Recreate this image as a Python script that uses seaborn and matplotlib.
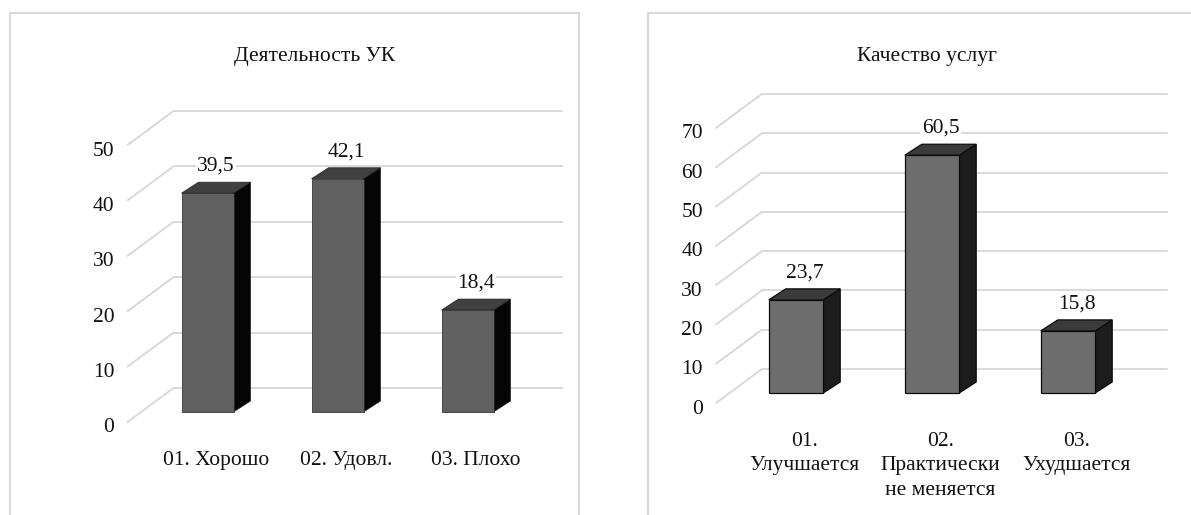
import matplotlib
matplotlib.use("Agg")
import matplotlib.pyplot as plt
import seaborn as sns
import pandas as pd
from matplotlib.patches import Polygon

W, H, DPI = 1191, 515, 100

left_title = "Деятельность УК"
left_cats = ["01. Хорошо", "02. Удовл.", "03. Плохо"]
left_vals = [39.5, 42.1, 18.4]
left_ticks = [0, 10, 20, 30, 40, 50]

right_title = "Качество услуг"
right_cats = ["01.\nУлучшается", "02.\nПрактически\nне меняется", "03.\nУхудшается"]
right_vals = [23.7, 60.5, 15.8]
right_ticks = [0, 10, 20, 30, 40, 50, 60, 70]

sns.set_theme(style="white")
plt.rcParams["font.family"] = ["Liberation Serif", "DejaVu Serif"]

fig = plt.figure(figsize=(W / DPI, H / DPI), dpi=DPI, facecolor="white")

FS = 15.5
GRID = "#d9d9d9"
DEPTH = (17, 11)      # bar depth in pixels (right, up)
BACK_UP = 24          # back wall floor sits this many px above the bar base
FRONT_DOWN = 10       # front edge of the floor below the bar base
BACK_X0, FRONT_X = -34, -80   # px from first bar centre
BACK_X1 = 2.73                # category units


def draw_panel(box, origin, cat_px, unit_px, title, title_x, cats, vals, ticks, colors, edge_lw):
    x0, y0, x1, y1 = box
    ox, oy = origin
    ax = fig.add_axes([x0 / W, 1 - y1 / H, (x1 - x0) / W, (y1 - y0) / H])
    front, top, side, edge = colors

    df = pd.DataFrame({"cat": cats, "val": vals})
    sns.barplot(data=df, x="cat", y="val", ax=ax, color=front, saturation=1,
                width=0.4, edgecolor=edge, linewidth=edge_lw, zorder=3)

    ax.set_xlim((x0 - ox) / cat_px, (x1 - ox) / cat_px)
    ax.set_ylim((oy - y1) / unit_px, (oy - y0) / unit_px)
    ax.set_xticks([])
    ax.set_yticks([])
    ax.set_xlabel("")
    ax.set_ylabel("")
    for s in ax.spines.values():
        s.set_color("#d9d9d9")
        s.set_linewidth(1.5)

    px = lambda p: p / cat_px
    py = lambda p: p / unit_px

    # back wall + diagonal floor lines
    for v in ticks:
        yb = v + py(BACK_UP)
        yf = v - py(FRONT_DOWN)
        ax.plot([px(BACK_X0), BACK_X1], [yb, yb], color=GRID, lw=1.4, zorder=1)
        ax.plot([px(FRONT_X), px(BACK_X0)], [yf, yb], color=GRID, lw=1.4, zorder=1)
        ax.text(px(-93), yf - py(6), str(v), ha="right", va="center", fontsize=FS, color="#111111")

    ddx, ddy = px(DEPTH[0]), py(DEPTH[1])
    for bar, v, c in zip(ax.patches, vals, cats):
        xl = bar.get_x()
        xr = xl + bar.get_width()
        h = bar.get_height()
        ax.add_patch(Polygon([(xr, 0), (xr + ddx, ddy), (xr + ddx, h + ddy), (xr, h)],
                             closed=True, facecolor=side, edgecolor=edge, lw=edge_lw, zorder=2.5))
        ax.add_patch(Polygon([(xl, h), (xl + ddx, h + ddy), (xr + ddx, h + ddy), (xr, h)],
                             closed=True, facecolor=top, edgecolor=edge, lw=edge_lw, zorder=2.5))
        xc = (xl + xr) / 2 + ddx / 2
        ax.text(xc, h + ddy + py(16), f"{v:.1f}".replace(".", ","), ha="center", va="center",
                fontsize=FS, color="#111111", zorder=5,
                bbox=dict(facecolor="white", edgecolor="none", pad=1))
        ax.text(xc, -py(39), c, ha="center", va="top", fontsize=FS, color="#111111",
                linespacing=1.38)

    ax.text(px(title_x - ox), py(oy - 57), title, ha="center", va="center",
            fontsize=FS, color="#111111")
    return ax


draw_panel((10, 13, 579, 525), (207.5, 412), 130, 5.54, left_title, 315,
           left_cats, left_vals, left_ticks,
           ("#606060", "#404040", "#050505", "#202020"), 0.5)
draw_panel((648, 13, 1200, 525), (796, 393), 136, 3.93, right_title, 927,
           right_cats, right_vals, right_ticks,
           ("#6d6d6d", "#3b3b3b", "#1d1d1d", "#0d0d0d"), 0.9)

fig.savefig("out.png", dpi=DPI, facecolor="white")
